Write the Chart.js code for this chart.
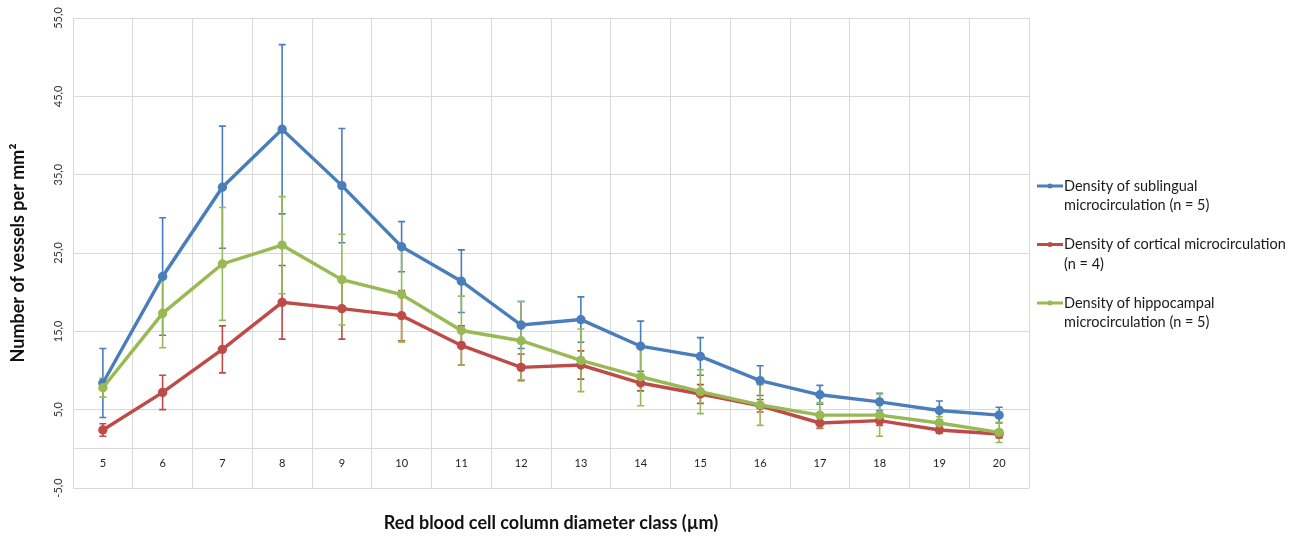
<!DOCTYPE html>
<html>
<head>
<meta charset="utf-8">
<script src="https://cdn.jsdelivr.net/npm/chart.js@4.4.1/dist/chart.umd.min.js"></script>
<style>
  body { margin: 0; background: #fff; }
  #wrap { width: 1298px; height: 537px; }
</style>
</head>
<body>
<div id="wrap"><canvas id="vesselChart" width="1298" height="537"></canvas></div>
<script>
const categories = ['5', '6', '7', '8', '9', '10', '11', '12', '13', '14', '15', '16', '17', '18', '19', '20'];

const sublingual    = [8.4, 22.0, 33.4, 40.8, 33.6, 25.8, 21.4, 15.8, 16.5, 13.1, 11.8, 8.7, 6.9, 6.0, 4.9, 4.3];
const sublingualErr = [4.4, 7.5, 7.8, 10.8, 7.3, 3.2, 4.0, 3.0, 2.9, 3.2, 2.4, 1.9, 1.2, 1.1, 1.2, 1.0];

const cortical    = [2.4, 7.2, 12.7, 18.7, 17.9, 17.0, 13.2, 10.4, 10.7, 8.4, 7.0, 5.5, 3.3, 3.6, 2.4, 1.9];
const corticalErr = [0.8, 2.2, 3.0, 4.7, 3.9, 3.2, 2.5, 1.7, 1.8, 1.0, 1.2, 0.8, 0.7, 0.6, 0.4, 0.5];

const hippocampal    = [7.8, 17.3, 23.6, 26.0, 21.6, 19.7, 15.1, 13.8, 11.3, 9.2, 7.3, 5.6, 4.3, 4.3, 3.3, 2.1];
const hippocampalErr = [1.2, 4.4, 7.2, 6.2, 5.8, 6.1, 4.4, 5.0, 4.0, 3.7, 2.8, 2.6, 1.6, 2.7, 0.8, 1.3];

const legendLabels = [
    ['Density of sublingual', 'microcirculation (n = 5)'],
    ['Density of cortical microcirculation', '(n = 4)'],
    ['Density of hippocampal', 'microcirculation (n = 5)']
];

const yTitle = 'Number of vessels per mm\u00B2';
const xTitle = 'Red blood cell column diameter class (\u00B5m)';

const BLUE = '#4a7ebb';
const RED = '#be4b48';
const GREEN = '#98b954';
const FONT = 'Lato, "Open Sans", sans-serif';

// error bars, drawn under the lines
const errorBars = {
    id: 'errorBars',
    beforeDatasetsDraw(chart) {
        const ctx = chart.ctx;
        const y = chart.scales.y;
        chart.data.datasets.forEach((ds, i) => {
            const meta = chart.getDatasetMeta(i);
            ctx.save();
            ctx.strokeStyle = ds.borderColor;
            ctx.lineWidth = 1.6;
            meta.data.forEach((pt, j) => {
                const v = ds.data[j];
                const e = ds.errors[j];
                const top = y.getPixelForValue(v + e);
                const bot = y.getPixelForValue(v - e);
                ctx.beginPath();
                ctx.moveTo(pt.x, top);
                ctx.lineTo(pt.x, bot);
                ctx.moveTo(pt.x - 3.5, top);
                ctx.lineTo(pt.x + 3.5, top);
                ctx.moveTo(pt.x - 3.5, bot);
                ctx.lineTo(pt.x + 3.5, bot);
                ctx.stroke();
            });
            ctx.restore();
        });
    }
};

// rotated y tick labels, axis titles and the legend
const decorations = {
    id: 'decorations',
    afterDraw(chart) {
        const ctx = chart.ctx;
        const area = chart.chartArea;
        const y = chart.scales.y;

        ctx.save();
        ctx.fillStyle = '#333';
        ctx.font = '11px ' + FONT;
        ctx.textAlign = 'center';
        ctx.textBaseline = 'middle';
        y.ticks.forEach(t => {
            const py = y.getPixelForValue(t.value);
            ctx.save();
            ctx.translate(area.left - 15, py);
            ctx.rotate(-Math.PI / 2);
            ctx.fillText(t.value.toFixed(1).replace('.', ','), 0, 0);
            ctx.restore();
        });

        ctx.fillStyle = '#111';
        ctx.font = 'bold 18px ' + FONT;
        ctx.save();
        ctx.translate(18, (area.top + area.bottom) / 2);
        ctx.rotate(-Math.PI / 2);
        ctx.fillText(yTitle, 0, 0);
        ctx.restore();
        ctx.fillText(xTitle, (area.left + area.right) / 2, 523);

        // legend
        ctx.font = '14.5px ' + FONT;
        ctx.textAlign = 'left';
        const x0 = area.right + 8;
        chart.data.datasets.forEach((ds, i) => {
            const ly = 186 + i * 58.5;
            ctx.strokeStyle = ds.borderColor;
            ctx.fillStyle = ds.borderColor;
            ctx.lineWidth = 3;
            ctx.beginPath();
            ctx.moveTo(x0, ly);
            ctx.lineTo(x0 + 26, ly);
            ctx.stroke();
            ctx.beginPath();
            ctx.arc(x0 + 13, ly, 2.5, 0, Math.PI * 2);
            ctx.fill();
            ctx.fillStyle = '#1a1a1a';
            legendLabels[i].forEach((line, k) => {
                ctx.fillText(line, x0 + 27, ly + k * 19.5);
            });
        });
        ctx.restore();
    }
};

function series(label, data, errors, color, order) {
    return {
        label: label,
        data: data,
        errors: errors,
        borderColor: color,
        backgroundColor: color,
        borderWidth: 3.4,
        pointRadius: 3,
        pointHoverRadius: 3,
        tension: 0,
        fill: false,
        order: order
    };
}

new Chart(document.getElementById('vesselChart'), {
    type: 'line',
    data: {
        labels: categories,
        datasets: [
            series(legendLabels[0].join(' '), sublingual, sublingualErr, BLUE, 3),
            series(legendLabels[1].join(' '), cortical, corticalErr, RED, 2),
            series(legendLabels[2].join(' '), hippocampal, hippocampalErr, GREEN, 1)
        ]
    },
    options: {
        responsive: false,
        animation: false,
        layout: {
            padding: { left: 73, right: 269, top: 18, bottom: 49 }
        },
        plugins: {
            legend: { display: false },
            tooltip: { enabled: false }
        },
        scales: {
            x: {
                position: { y: 0 },
                offset: true,
                grid: { offset: true, color: '#d9d9d9', lineWidth: 1, tickLength: 0 },
                border: { color: '#d9d9d9', width: 1 },
                ticks: { color: '#222', font: { family: FONT, size: 11 }, padding: 8, maxRotation: 0 }
            },
            y: {
                min: -5,
                max: 55,
                ticks: { stepSize: 10, display: false },
                grid: { color: '#d9d9d9', lineWidth: 1, tickLength: 0 },
                border: { display: false },
                afterFit(scale) { scale.width = 0; }
            }
        }
    },
    plugins: [errorBars, decorations]
});
</script>
</body>
</html>
